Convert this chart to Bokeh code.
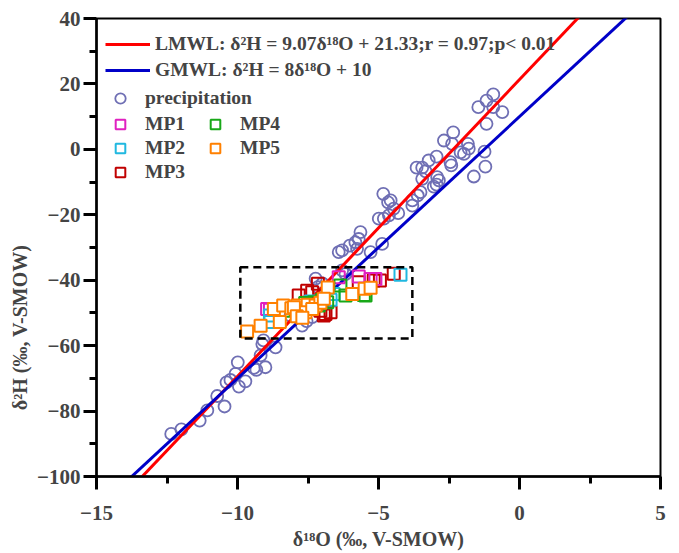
from bokeh.plotting import figure
from bokeh.models import FixedTicker, Legend, LegendItem, BoxAnnotation
from bokeh.embed import file_html
from bokeh.resources import INLINE

# ---------------- data ----------------
precip_d18O = [-12.35, -11.99, -11.34, -11.07, -10.72, -10.46, -10.39, -10.25, -10.07, -9.99,
               -9.95, -9.72, -9.42, -9.33, -9.01, -9.18, -9.12, -8.65,
               -7.23, -7.35, -7.55, -9.08, -7.71, -8.12, -6.99, -6.17, -6.41, -7.15,
               -4.83, -4.66, -4.99, -4.81, -4.63, -5.64, -5.70, -5.82, -6.02, -6.29,
               -5.76, -5.28, -4.87, -6.29,
               -0.93, -1.17, -1.46, -0.93, -0.61, -1.17, -2.35, -2.68, -2.39, -1.83,
               -1.80, -1.97, -2.09, -1.24, -2.94, -3.22, -2.45, -2.42, -3.65, -3.45,
               -3.33, -3.45, -2.92, -2.86, -3.04, -2.94, -1.21, -1.62, -3.51, -3.61,
               -3.80, -3.80, -4.57, -4.46, -4.30]
precip_d2H = [-87.0, -85.6, -82.9, -79.8, -75.4, -78.6, -71.2, -70.5, -68.6, -65.1,
              -72.5, -70.9, -66.8, -67.4, -66.6, -63.0, -59.5, -60.5,
              -39.5, -51.3, -52.5, -58.4, -53.9, -50.8, -41.0, -38.1, -31.4, -42.1,
              -13.6, -16.2, -21.2, -21.2, -20.2, -25.3, -27.4, -28.4, -29.4, -30.9,
              -30.4, -31.4, -28.9, -37.0,
              16.8, 14.9, 12.9, 12.9, 11.4, 7.8, 5.2, 2.7, 1.7, 1.7,
              0.2, -1.4, -0.9, -0.7, -2.2, -3.4, -3.9, -4.9, -5.6, -5.6,
              -6.7, -9.0, -8.5, -9.5, -11.4, -10.8, -5.3, -8.3, -13.1, -14.1,
              -15.6, -17.2, -15.6, -18.1, -19.5]

mp1_d18O = [-5.70, -5.28, -8.85, -6.41, -8.95, -5.11]
mp1_d2H = [-38.9, -39.6, -49.0, -39.1, -48.8, -39.6]

mp2_d18O = [-4.22, -8.85, -6.59, -8.83, -6.70, -7.40]
mp2_d2H = [-38.3, -50.8, -44.2, -52.8, -46.0, -46.5]

mp3_d18O = [-4.46, -4.95, -5.17, -5.70, -7.15, -7.53, -7.83, -6.88, -6.94, -6.70, -7.06, -7.35]
mp3_d2H = [-38.0, -40.1, -40.1, -40.6, -41.1, -43.2, -44.7, -50.3, -50.8, -49.8, -49.3, -43.7]

mp4_d18O = [-6.35, -6.17, -5.52, -7.12, -6.82, -7.29, -8.36, -7.00, -7.60, -5.46]
mp4_d2H = [-41.6, -44.7, -44.5, -47.7, -46.7, -46.7, -49.3, -46.0, -47.0, -44.7]

mp5_d18O = [-9.66, -9.18, -8.50, -8.71, -8.38, -8.09, -7.88, -7.71, -7.51, -7.23,
            -7.06, -6.80, -5.93, -5.49, -5.28, -7.83, -7.59, -7.35, -6.94, -8.00,
            -7.90, -7.70]
mp5_d2H = [-55.7, -53.9, -52.8, -48.8, -47.7, -48.6, -47.7, -49.3, -47.5, -47.7,
           -46.9, -42.2, -44.2, -42.6, -42.3, -50.6, -49.8, -48.8, -45.7, -48.3,
           -51.0, -51.5]

LMWL_SLOPE, LMWL_INTERCEPT = 9.07, 21.33
GMWL_SLOPE, GMWL_INTERCEPT = 8.0, 10.0
line_x = [-15, 5]

box_x = [-9.9, -3.8]
box_y = [-57.8, -36.0]

x_ticks = [-15, -10, -5, 0, 5]
x_minor = [-12.5, -7.5, -2.5, 2.5]
y_ticks = [-100, -80, -60, -40, -20, 0, 20, 40]
y_minor = [-90, -70, -50, -30, -10, 10, 30]

x_title = "δ¹⁸O (‰, V-SMOW)"
y_title = "δ²H (‰, V-SMOW)"

# ---------------- figure ----------------
FONT = "Liberation Serif"
p = figure(width=679, height=553, x_range=(-15, 5), y_range=(-100, 40),
           output_backend="svg", toolbar_location=None,
           min_border_left=96, min_border_right=19, min_border_top=18, min_border_bottom=77)
p.grid.visible = False
p.outline_line_color = "black"
p.outline_line_width = 2
p.background_fill_color = "white"
p.border_fill_color = "white"

for ax in (p.xaxis[0], p.yaxis[0]):
    ax.axis_line_width = 2.5
    ax.major_tick_line_width = 3
    ax.minor_tick_line_width = 3
    ax.major_tick_out = 13
    ax.major_tick_in = 0
    ax.minor_tick_out = 7
    ax.minor_tick_in = 0
    ax.major_label_text_font = FONT
    ax.major_label_text_font_style = "bold"
    ax.major_label_text_font_size = "21px"
    ax.axis_label_text_font = FONT
    ax.axis_label_text_font_style = "bold"
    ax.axis_label_text_font_size = "20px"

p.xaxis.ticker = FixedTicker(ticks=x_ticks, minor_ticks=x_minor)
p.yaxis.ticker = FixedTicker(ticks=y_ticks, minor_ticks=y_minor)
p.xaxis.axis_label = x_title
# trailing no-break spaces push the rotated y title below the middle, as in the original
p.yaxis.axis_label = y_title + "\u00a0" * 32
p.xaxis.major_label_standoff = 16
p.xaxis.axis_label_standoff = 5
p.yaxis.major_label_standoff = 3
p.yaxis.axis_label_standoff = 3

r_pre = p.scatter(precip_d18O, precip_d2H, marker="circle", size=12, fill_color=None,
                  line_color="#6f6fb4", line_width=1.8)

lm_y = [LMWL_SLOPE * x + LMWL_INTERCEPT for x in line_x]
gm_y = [GMWL_SLOPE * x + GMWL_INTERCEPT for x in line_x]
r_lm = p.line(line_x, lm_y, line_color="#ff0000", line_width=3)
r_gm = p.line(line_x, gm_y, line_color="#0000c8", line_width=3)

mp_colors = {"MP1": "#e020c0", "MP2": "#20b8e0", "MP3": "#c00000", "MP4": "#18a818", "MP5": "#ff8000"}
r3 = p.scatter(mp3_d18O, mp3_d2H, marker="square", size=12, fill_color="white", fill_alpha=0,
               line_color=mp_colors["MP3"], line_width=2)
r1 = p.scatter(mp1_d18O, mp1_d2H, marker="square", size=12, fill_color="white", fill_alpha=0,
               line_color=mp_colors["MP1"], line_width=2)
r2 = p.scatter(mp2_d18O, mp2_d2H, marker="square", size=12, fill_color="white", fill_alpha=0,
               line_color=mp_colors["MP2"], line_width=2)
r4 = p.scatter(mp4_d18O, mp4_d2H, marker="square", size=12, fill_color="white", fill_alpha=0,
               line_color=mp_colors["MP4"], line_width=2)
r5 = p.scatter(mp5_d18O, mp5_d2H, marker="square", size=12, fill_color="white",
               line_color=mp_colors["MP5"], line_width=2)

box = BoxAnnotation(left=box_x[0], right=box_x[1], bottom=box_y[0], top=box_y[1],
                    fill_alpha=0, line_color="black", line_alpha=1, line_width=2.5,
                    line_dash="8 5")
p.add_layout(box)


def style(leg):
    leg.label_text_font = FONT
    leg.label_text_font_style = "bold"
    leg.label_text_font_size = "19.5px"
    leg.border_line_color = None
    leg.background_fill_alpha = 0
    leg.padding = 0
    leg.margin = 0
    leg.spacing = 0


legA = Legend(items=[LegendItem(label="LMWL: δ²H = 9.07δ¹⁸O + 21.33;r = 0.97;p< 0.01", renderers=[r_lm]),
                     LegendItem(label="GMWL: δ²H = 8δ¹⁸O + 10", renderers=[r_gm])],
              location=(9, 393), glyph_width=45, glyph_height=26, label_height=26, label_standoff=5)
style(legA)
legB = Legend(items=[LegendItem(label="precipitation", renderers=[r_pre])],
              location=(9, 365), glyph_width=30, glyph_height=26, label_height=26, label_standoff=10)
style(legB)
legC = Legend(items=[LegendItem(label=k, renderers=[r]) for k, r in
                     [("MP1", r1), ("MP2", r2), ("MP3", r3), ("MP4", r4), ("MP5", r5)]],
              location=(9, 292), glyph_width=30, glyph_height=24, label_height=24,
              label_standoff=10, label_width=55, nrows=3)
style(legC)
for leg in (legA, legB, legC):
    p.add_layout(leg)

open("out.html", "w").write(file_html(p, INLINE))
